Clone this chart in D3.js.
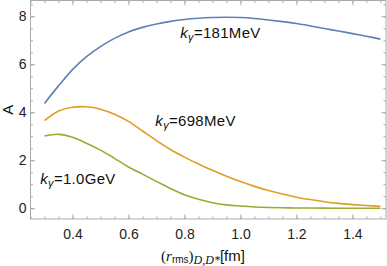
<!DOCTYPE html>
<html>
<head>
<meta charset="utf-8">
<script src="https://cdn.jsdelivr.net/npm/d3@7"></script>
<style>
  body { margin: 0; background: #fff; }
  svg text { font-family: "Liberation Sans", Arial, sans-serif; }
  .axis path, .axis line { stroke: #aaa; }
  .axis text { fill: #222; font-size: 14px; }
</style>
</head>
<body>
<div id="chart"></div>
<script>
const width = 387,
  height = 266,
  margin = { top: 0.5, bottom: 47, left: 30.5, right: 1 };

// data
const xValues = [0.30, 0.35, 0.40, 0.45, 0.50, 0.55, 0.60, 0.65, 0.70, 0.75, 0.80, 0.85, 0.90,
  0.95, 1.00, 1.05, 1.10, 1.15, 1.20, 1.25, 1.30, 1.35, 1.40, 1.45, 1.50];
const blueValues = [4.37, 5.10, 5.78, 6.32, 6.74, 7.08, 7.35, 7.54, 7.68, 7.79, 7.87, 7.92, 7.95,
  7.96, 7.95, 7.91, 7.85, 7.78, 7.70, 7.60, 7.49, 7.39, 7.28, 7.17, 7.05];
const orangeValues = [3.65, 4.05, 4.21, 4.23, 4.13, 3.92, 3.62, 3.22, 2.82, 2.45, 2.13, 1.84, 1.58,
  1.33, 1.11, 0.91, 0.74, 0.59, 0.46, 0.36, 0.27, 0.20, 0.15, 0.11, 0.08];
const greenValues = [3.01, 3.08, 2.96, 2.71, 2.42, 2.08, 1.72, 1.42, 1.12, 0.82, 0.56, 0.37, 0.23,
  0.14, 0.09, 0.05, 0.03, 0.02, 0.01, 0.01, 0.005, 0.0, 0.0, 0.0, 0.0];
const seriesNames = ["181MeV", "698MeV", "1.0GeV"];
const xTicks = [0.4, 0.6, 0.8, 1.0, 1.2, 1.4];
const yTicks = [0, 2, 4, 6, 8];

const colors = ["#5e81b5", "#e19c24", "#8fb032"];
const series = [blueValues, orangeValues, greenValues];

const xScale = d3.scaleLinear()
  .domain([0.25, 1.52])
  .range([margin.left, width - margin.right]);

const yScale = d3.scaleLinear()
  .domain([-0.45, 8.66])
  .range([height - margin.bottom, margin.top]);

const svg = d3.select("#chart")
  .append("svg")
  .attr("width", width)
  .attr("height", height);

const innerW = width - margin.left - margin.right;
const innerH = height - margin.top - margin.bottom;

const xMinor = d3.range(0.25, 1.5201, 0.05);
const yMinor = d3.range(-0.0, 8.51, 0.5);

function frameAxis(axisFn, scale, ticks, size, labels, transform) {
  const g = svg.append("g")
    .attr("class", "axis")
    .attr("transform", transform)
    .call(axisFn(scale).tickValues(ticks).tickSize(size).tickPadding(labels ? 8 : 0)
      .tickFormat(labels ? d3.format(".1f") : ""));
  g.select(".domain").remove();
  return g;
}

// minor ticks
frameAxis(d3.axisBottom, xScale, xMinor, -2.5, false, `translate(0,${height - margin.bottom})`);
frameAxis(d3.axisTop, xScale, xMinor, -2.5, false, `translate(0,${margin.top})`);
frameAxis(d3.axisLeft, yScale, yMinor, -2.5, false, `translate(${margin.left},0)`);
frameAxis(d3.axisRight, yScale, yMinor, -2.5, false, `translate(${width - margin.right},0)`);

// major ticks
frameAxis(d3.axisBottom, xScale, xTicks, -4.5, true, `translate(0,${height - margin.bottom})`)
  .selectAll("text").attr("dy", "0.85em");
frameAxis(d3.axisTop, xScale, xTicks, -4.5, false, `translate(0,${margin.top})`);
const yAx = frameAxis(d3.axisLeft, yScale, yTicks, -4.5, true, `translate(${margin.left},0)`);
yAx.selectAll("text").text(d => d).attr("x", -4);
frameAxis(d3.axisRight, yScale, yTicks, -4.5, false, `translate(${width - margin.right},0)`);

// frame
svg.append("rect")
  .attr("x", margin.left)
  .attr("y", margin.top)
  .attr("width", innerW)
  .attr("height", innerH)
  .attr("fill", "none")
  .attr("stroke", "#aaa");

const line = d3.line()
  .x((d, i) => xScale(xValues[i]))
  .y(d => yScale(d))
  .curve(d3.curveCatmullRom.alpha(0.5));

svg.selectAll(".curve")
  .data(series)
  .join("path")
  .attr("class", "curve")
  .attr("fill", "none")
  .attr("stroke", (d, i) => colors[i])
  .attr("stroke-width", 1.6)
  .attr("d", line);

// curve labels
const labelPos = [[0.785, 7.1], [0.696, 3.42], [0.285, 1.0]];
labelPos.forEach((p, i) => {
  const t = svg.append("text")
    .attr("x", xScale(p[0]))
    .attr("y", yScale(p[1]))
    .attr("font-size", 15)
    .attr("letter-spacing", 0.3)
    .attr("fill", "#111");
  t.append("tspan").attr("font-style", "italic").text("k");
  t.append("tspan").attr("font-style", "italic").attr("font-size", 11).attr("dy", 3).text("γ");
  t.append("tspan").attr("dy", -3).text("=" + seriesNames[i]);
});

// axis labels
svg.append("text")
  .attr("transform", `translate(13,${yScale(4.1)}) rotate(-90)`)
  .attr("text-anchor", "middle")
  .attr("font-size", 15)
  .attr("fill", "#111")
  .text("A");

const xl = svg.append("text")
  .attr("x", 203)
  .attr("y", 261)
  .attr("text-anchor", "middle")
  .attr("font-size", 15)
  .attr("fill", "#111");
xl.append("tspan").style("font-family", "Liberation Serif").text("(");
xl.append("tspan").style("font-family", "Liberation Serif").attr("font-style", "italic").text("r");
xl.append("tspan").attr("font-size", 10).attr("dy", 2).text("rms");
xl.append("tspan").style("font-family", "Liberation Serif").attr("dy", -2).text(")");
xl.append("tspan").style("font-family", "Liberation Serif").attr("font-style", "italic")
  .attr("font-size", 12).attr("dy", 3).text("D,D*");
xl.append("tspan").attr("dy", -3).text("[fm]");
</script>
</body>
</html>
